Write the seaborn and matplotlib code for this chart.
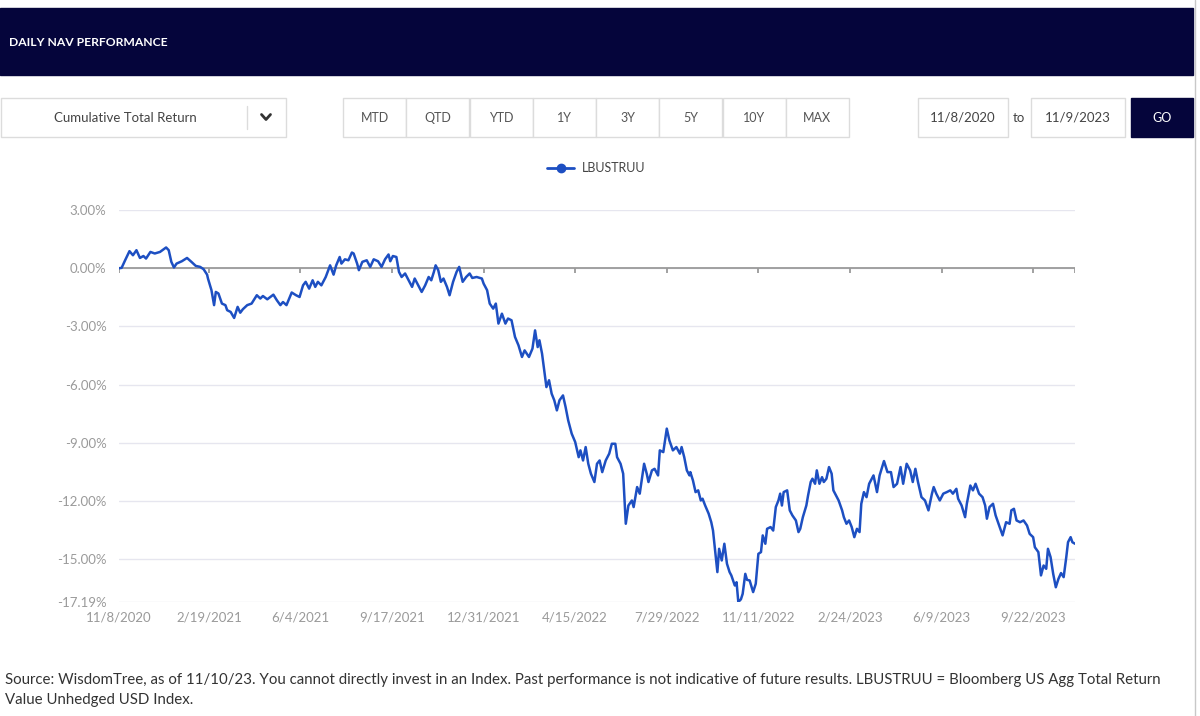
import numpy as np
import pandas as pd
import matplotlib
matplotlib.use('Agg')
import matplotlib.pyplot as plt
from matplotlib.patches import Rectangle
from matplotlib.lines import Line2D
import seaborn as sns

# %%
# Data: days since 11/8/2020 and cumulative total return (%)
start_date = '2020-11-08'
end_date = '2023-11-09'
day_offset = [0, 3, 7, 12, 16, 20, 24, 28, 31, 36, 41, 47, 54, 57, 60, 63, 66, 72, 78, 83,
              88, 93, 97, 101, 102, 106, 109, 111, 114, 118, 122, 124, 128, 132, 136, 139, 142, 147, 152, 158,
              162, 165, 170, 177, 181, 185, 188, 192, 198, 203,
              207, 211, 214, 218, 222, 225, 228, 232, 237, 242, 246, 249, 253, 255, 259, 263, 267, 269, 273, 275,
              279, 284, 288, 292, 297, 301, 305, 309, 311, 314, 318, 321, 324, 328, 332, 336, 339, 343, 347, 351,
              355, 358, 361, 363, 366, 369, 372, 376, 379, 383, 387, 390, 394, 398, 402, 405, 410, 416, 418,
              422, 425, 429, 432, 435, 439, 443, 446, 450, 454, 458, 462, 465, 470, 474, 477, 480, 482, 485, 488,
              490, 493, 496, 499, 502, 505, 509, 512, 515, 519, 523, 527, 529, 532, 535, 538, 541, 545, 548, 551,
              554, 558, 562, 565, 569, 571, 575, 578, 581, 584, 588, 590, 594, 597, 602, 605, 607, 611, 614, 618,
              620, 624, 628, 631,
              635, 639, 643, 645, 648, 651, 654, 655, 658, 661, 664, 667, 669, 672, 676, 679, 681, 683, 686, 688,
              691, 694, 697, 700, 702, 706, 708, 710, 713, 715, 718, 720, 723, 727, 730, 733, 736, 738, 741, 743,
              747, 750, 753, 756, 758, 760, 762, 766, 769, 772, 776, 779, 781, 784, 788, 790, 793, 795, 798, 800,
              803, 806, 808, 811, 814, 817, 819, 822, 825, 829, 831, 834, 837, 840, 843, 846, 849, 851, 854, 857,
              860,
              865, 869, 872, 877, 881, 885, 888, 892, 896, 899, 903, 907, 910, 913, 916, 920, 924, 928, 932, 934,
              937, 941, 945, 949, 953, 956, 960, 962, 966, 970, 972, 976, 979, 982, 986, 990, 993, 995, 998, 1002,
              1005, 1009, 1013, 1017, 1021, 1023, 1026, 1029, 1033, 1037, 1041, 1044, 1048, 1050, 1054, 1057, 1060, 1063, 1065, 1068,
              1071, 1074, 1077, 1080, 1083, 1086, 1088, 1091, 1093, 1096]
cum_return = [0.00, 0.02, 0.41, 0.88, 0.67, 0.93, 0.53, 0.63, 0.50, 0.84, 0.76, 0.84, 1.07, 0.93, 0.33, 0.04, 0.24, 0.36, 0.53, 0.33,
              0.12, 0.07, -0.05, -0.33, -0.53, -1.13, -1.90, -1.22, -1.30, -1.82, -1.90, -2.16, -2.25, -2.56, -1.99, -2.29, -2.11, -1.90, -1.82, -1.39,
              -1.56, -1.43, -1.60, -1.36, -1.65, -1.90, -1.74, -1.90, -1.25, -1.39,
              -1.48, -0.88, -0.70, -1.05, -0.62, -0.96, -0.70, -0.88, -0.45, 0.15, -0.33, 0.15, 0.58, 0.24, 0.46, 0.41, 0.81, 0.76, 0.24, -0.10,
              0.33, 0.41, 0.07, 0.46, 0.36, 0.07, 0.46, 0.71, 0.36, 0.63, 0.58, -0.19, -0.45, -0.27, -0.62, -0.96, -0.53, -0.88, -1.22, -0.88,
              -0.45, -0.62, -0.19, 0.15, -0.10, -0.70, -0.53, -0.96, -1.39, -0.70, -0.19, 0.07, -0.70, -0.45, -0.27, -0.50, -0.45, -0.53, -0.79,
              -1.13, -1.82, -2.08, -1.82, -2.85, -2.34, -2.85, -2.59, -2.68, -3.54, -3.97, -4.57, -4.23, -4.57, -4.14, -3.20, -4.06, -3.71, -4.40, -5.43,
              -6.12, -5.77, -6.46, -6.80, -7.32, -6.80, -6.55, -7.15, -7.84, -8.52, -8.95, -9.73, -9.38, -9.90, -9.21, -10.07, -10.58, -11.01, -10.07, -9.90,
              -10.50, -9.90, -9.55, -9.04, -9.04, -9.73, -10.07, -10.58, -13.16, -12.22, -11.96, -12.30, -11.27, -11.61, -10.07, -10.58, -11.01, -10.41, -10.33, -10.67,
              -9.38, -9.47, -8.26, -8.87,
              -9.38, -9.21, -9.55, -9.21, -9.73, -10.41, -10.67, -10.50, -10.93, -11.53, -11.44, -11.96, -11.87, -12.22, -12.64, -13.08, -13.51, -14.37, -15.65, -14.45,
              -15.05, -14.19, -15.22, -15.65, -15.82, -16.34, -16.17, -17.19, -17.05, -16.77, -15.74, -16.05, -16.08, -16.68, -16.25, -14.71, -14.62, -13.76, -14.19, -13.42,
              -13.33, -13.51, -12.30, -11.96, -11.61, -12.22, -11.53, -11.44, -12.47, -12.73, -12.99, -13.59, -13.42, -12.82, -12.22, -11.70, -11.01, -10.84, -11.10, -10.41,
              -11.10, -10.76, -11.01, -10.84, -10.24, -10.58, -11.44, -11.70, -11.96, -12.47, -12.82, -13.16, -12.99, -13.33, -13.85, -13.42, -13.59, -12.13, -11.53, -11.79,
              -11.10,
              -10.67, -11.53, -10.67, -9.93, -10.50, -10.50, -11.27, -11.10, -10.24, -11.10, -10.07, -10.41, -11.01, -10.33, -11.01, -11.79, -11.96, -12.47, -11.61, -11.27,
              -11.61, -11.96, -11.61, -11.53, -11.44, -11.61, -11.36, -11.87, -12.22, -12.82, -12.13, -11.19, -11.44, -11.10, -11.61, -11.79, -12.22, -12.90, -12.30, -12.13,
              -12.73, -13.25, -13.76, -13.08, -13.16, -12.47, -12.39, -12.99, -13.08, -12.99, -13.25, -13.68, -13.85, -14.37, -14.62, -15.82, -15.31, -15.48, -14.45, -14.88,
              -15.74, -16.43, -16.00, -15.70, -15.91, -14.88, -14.11, -13.85, -14.11, -14.19]

tick_dates = ['2020-11-08', '2021-02-19', '2021-06-04', '2021-09-17', '2021-12-31', '2022-04-15',
              '2022-07-29', '2022-11-11', '2023-02-24', '2023-06-09', '2023-09-22']
y_ticks = [3.0, 0.0, -3.0, -6.0, -9.0, -12.0, -15.0, -17.19]
period_buttons = ['MTD', 'QTD', 'YTD', '1Y', '3Y', '5Y', '10Y', 'MAX']
series_name = 'LBUSTRUU'

data = pd.DataFrame({'date': pd.Timestamp(start_date) + pd.to_timedelta(day_offset, unit='D'),
                     'ret': cum_return})

# %%
sns.set_theme(style='white')
plt.rcParams['font.family'] = ['Lato', 'DejaVu Sans']

W, H = 1200, 716
navy = '#05053b'
blue = '#1d4fc2'
border = '#dcdcdc'

fig = plt.figure(figsize=(12, 7.16), dpi=100)


def fx(x):
    return x / W


def fy(y):
    return 1 - y / H


def box(x0, y0, x1, y1, face='white', edge=border):
    fig.add_artist(Rectangle((fx(x0), fy(y1)), fx(x1) - fx(x0), fy(y0) - fy(y1),
                             transform=fig.transFigure, facecolor=face, edgecolor=edge, lw=1))


# header band
box(0, 8, 1193, 75, face=navy, edge=navy)
fig.text(fx(9), fy(42), 'DAILY NAV PERFORMANCE', color='white', fontsize=8.7, fontweight='bold',
         va='center', ha='left')

# dropdown
box(1, 98, 286, 137)
fig.text(fx(125), fy(117.5), 'Cumulative Total Return', color='#444444', fontsize=9.5, va='center', ha='center')
fig.add_artist(Line2D([fx(247), fx(247)], [fy(106), fy(129)], color=border, lw=1, transform=fig.transFigure))
fig.add_artist(Line2D([fx(261.5), fx(266), fx(270.5)], [fy(114.5), fy(119.5), fy(114.5)], color='#333333',
                      lw=2, transform=fig.transFigure))

# period buttons
bx0, bw = 343, 63.25
for i, lab in enumerate(period_buttons):
    box(bx0 + i * bw, 98, bx0 + (i + 1) * bw, 137)
    fig.text(fx(bx0 + (i + 0.5) * bw), fy(118.5), lab, color='#555555', fontsize=9, va='center', ha='center')

# date range
box(918, 98, 1008, 137)
fig.text(fx(963), fy(117.5), '11/8/2020', color='#444444', fontsize=9.5, va='center', ha='center')
fig.text(fx(1019), fy(117.5), 'to', color='#444444', fontsize=9.5, va='center', ha='center')
box(1031, 98, 1125, 137)
fig.text(fx(1078), fy(117.5), '11/9/2023', color='#444444', fontsize=9.5, va='center', ha='center')
box(1131, 98, 1193, 137, face=navy, edge=navy)
fig.text(fx(1162), fy(118), 'GO', color='white', fontsize=9, va='center', ha='center')

# right border of the screenshot
fig.add_artist(Line2D([fx(1195), fx(1195)], [0, 1], color='#c8c8c8', lw=1, transform=fig.transFigure))

# %%
# chart
ax = fig.add_axes([fx(119), fy(602), fx(1075) - fx(119), fy(210) - fy(602)])
sns.lineplot(data=data, x='date', y='ret', ax=ax, color=blue, lw=1.8, label=series_name, legend=False)

ax.set_xlim(pd.Timestamp(start_date), pd.Timestamp(end_date))
ax.set_ylim(min(y_ticks), max(y_ticks))
for s in ax.spines.values():
    s.set_visible(False)

ax.set_yticks(y_ticks)
ax.set_yticklabels([f'{v:.2f}%' for v in y_ticks])
ax.grid(axis='y', color='#e6e6ef', lw=1)
ax.grid(axis='x', visible=False)
ax.axhline(0, color='#9a9a9a', lw=1.3, zorder=1)

tick_ts = pd.to_datetime(tick_dates)
ax.set_xticks(tick_ts)
ax.set_xticklabels([f'{d.month}/{d.day}/{d.year}' for d in tick_ts])
ax.tick_params(axis='both', length=0, labelsize=9.5, labelcolor='#9a9a9a')
ax.tick_params(axis='x', pad=7)
ax.tick_params(axis='y', pad=9)
ax.vlines(list(tick_ts) + [pd.Timestamp(end_date)], -0.27, 0, color='#9a9a9a', lw=1.3, zorder=1)
ax.set_xlabel('')
ax.set_ylabel('')

handle = Line2D([], [], color=blue, lw=2, marker='o', markersize=6)
fig.legend([handle], [series_name], loc='center', bbox_to_anchor=(fx(596), fy(168)), frameon=False,
           fontsize=9, handlelength=2.2, handletextpad=0.6, labelcolor='#444444')

# footnote
fig.text(fx(5), fy(680), 'Source: WisdomTree, as of 11/10/23. You cannot directly invest in an Index. Past performance '
         'is not indicative of future results. LBUSTRUU = Bloomberg US Agg Total Return',
         color='#333333', fontsize=10.85, va='center', ha='left')
fig.text(fx(5), fy(700), 'Value Unhedged USD Index.', color='#333333', fontsize=10.85, va='center', ha='left')

fig.savefig('out.png', dpi=100)
